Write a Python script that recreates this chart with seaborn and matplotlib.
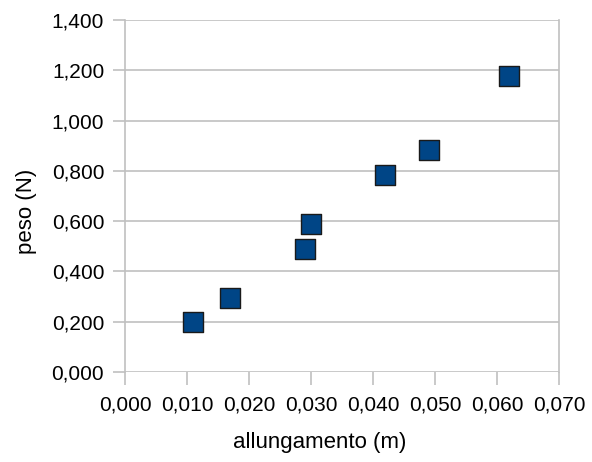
import matplotlib
matplotlib.use("Agg")
import matplotlib.pyplot as plt
import seaborn as sns
import pandas as pd
from matplotlib.ticker import FuncFormatter, MultipleLocator

# Data
allungamento = [0.011, 0.017, 0.029, 0.030, 0.042, 0.049, 0.062]
peso = [0.200, 0.296, 0.490, 0.590, 0.785, 0.884, 1.178]

df = pd.DataFrame({"allungamento": allungamento, "peso": peso})

sns.set_theme(style="white")
plt.rcParams['font.family'] = ['Liberation Sans', 'DejaVu Sans']

fig = plt.figure(figsize=(5.92, 4.62), dpi=100)
ax = fig.add_axes([125 / 592, 1 - 372 / 462, 434 / 592, 352 / 462])

sns.scatterplot(data=df, x="allungamento", y="peso", ax=ax, marker="s",
                s=190, color="#004586", edgecolor="#1a1a1a", linewidth=1.0,
                zorder=3, clip_on=False)

ax.set_xlim(0, 0.07)
ax.set_ylim(0, 1.4)
ax.xaxis.set_major_locator(MultipleLocator(0.01))
ax.yaxis.set_major_locator(MultipleLocator(0.2))
fmt = FuncFormatter(lambda v, p: f"{v:.3f}".replace(".", ","))
ax.xaxis.set_major_formatter(fmt)
ax.yaxis.set_major_formatter(fmt)

ax.yaxis.grid(True, color="#c0c0c0", linewidth=1.2)
ax.xaxis.grid(False)
ax.set_axisbelow(True)

for side in ["left", "right"]:
    ax.spines[side].set_color("#c0c0c0")
    ax.spines[side].set_linewidth(1.2)
for side in ["top", "bottom"]:
    ax.spines[side].set_visible(False)

ax.tick_params(axis="both", which="major", direction="out", length=9,
               width=1.2, color="#c0c0c0", labelsize=15, labelcolor="black",
               left=True, bottom=True)
ax.tick_params(axis="x", pad=8)
ax.tick_params(axis="y", pad=6)

ax.set_xlabel("allungamento (m)", fontsize=16, color="black", va="center")
ax.xaxis.set_label_coords(0.449, -0.199)
ax.set_ylabel("peso (N)", fontsize=16, color="black", va="center", ha="center")
ax.yaxis.set_label_coords(-0.228, 0.457)

plt.savefig("out.png", dpi=100)
